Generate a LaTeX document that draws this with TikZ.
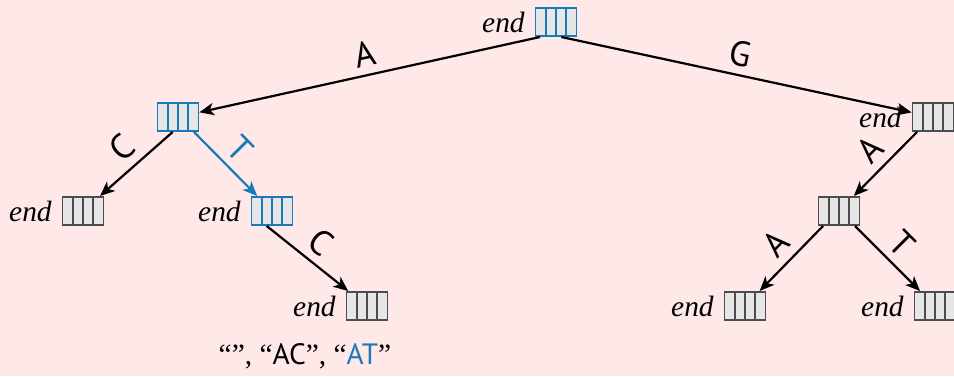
\documentclass[tikz,border=0pt]{standalone}
\usepackage{fontspec}
\setmainfont{Liberation Serif}
\setsansfont{PT Sans}
\usetikzlibrary{arrows.meta,calc}
\definecolor{bgpink}{HTML}{FEE8E8}
\definecolor{cellgray}{HTML}{E6E6E6}
\definecolor{rimgray}{HTML}{4D4D4D}
\definecolor{trieblue}{HTML}{1A7AB8}
\tikzset{
  % a trie node: a box of four pointer cells (A, C, G, T)
  trie/.style={draw=#1, fill=cellgray, line width=0.6pt,
    minimum width=13.9pt, minimum height=9.6pt, inner sep=0pt,
    path picture={
      \foreach \k in {1,2,3}
        \draw[#1, line width=0.55pt]
          ($(path picture bounding box.south west)!\k/4!(path picture bounding box.south east)$) --
          ($(path picture bounding box.north west)!\k/4!(path picture bounding box.north east)$);
    }},
  trie/.default=rimgray,
  endlabel/.style={label={[label distance=0pt, inner sep=3.2pt, font=\itshape\normalsize]left:end}},
  edge/.style={line width=0.75pt, -{Stealth[length=5pt, width=4.2pt, inset=1.4pt]}},
  sym/.style={midway, sloped, above, inner sep=2.6pt, font=\sffamily\large}
}
\begin{document}
\begin{tikzpicture}[x=0.34pt, y=-0.34pt]
  \path[fill=bgpink, use as bounding box] (0,0) rectangle (954,376);

  % nodes
  \node[trie=trieblue, endlabel] (root) at (556,22) {};
  \node[trie=trieblue] (l)   at (178,117) {};
  \node[trie, endlabel] (ll) at (83,211) {};
  \node[trie=trieblue, endlabel] (lr) at (272,211) {};
  \node[trie, endlabel] (lrc) at (367,306) {};
  \node[trie, endlabel] (r)   at (933,117) {};
  \node[trie] (ra)  at (839,211) {};
  \node[trie, endlabel] (raa) at (745,306) {};
  \node[trie, endlabel] (rat) at (935,306) {};

  % edges leave from the bottom of the matching cell
  \draw[edge] ($(root.south west)!.125!(root.south east)$) -- (l)
    node[sym] {A};
  \draw[edge] ($(root.south west)!.625!(root.south east)$) -- (r)
    node[sym] {G};
  \draw[edge] ($(l.south west)!.375!(l.south east)$) -- (ll)
    node[sym] {C};
  \draw[edge, trieblue] ($(l.south west)!.875!(l.south east)$) -- (lr)
    node[sym] {T};
  \draw[edge] ($(lr.south west)!.375!(lr.south east)$) -- (lrc)
    node[sym] {C};
  \draw[edge] ($(r.south west)!.125!(r.south east)$) -- (ra)
    node[sym] {A};
  \draw[edge] ($(ra.south west)!.125!(ra.south east)$) -- (raa)
    node[sym] {A};
  \draw[edge] ($(ra.south west)!.875!(ra.south east)$) -- (rat)
    node[sym] {T};

  % stored words
  \node[font=\normalsize] (words) at (305,356)
    {“”, “{\sffamily AC}”, “{\sffamily\color{trieblue}AT}”};
\end{tikzpicture}
\end{document}
